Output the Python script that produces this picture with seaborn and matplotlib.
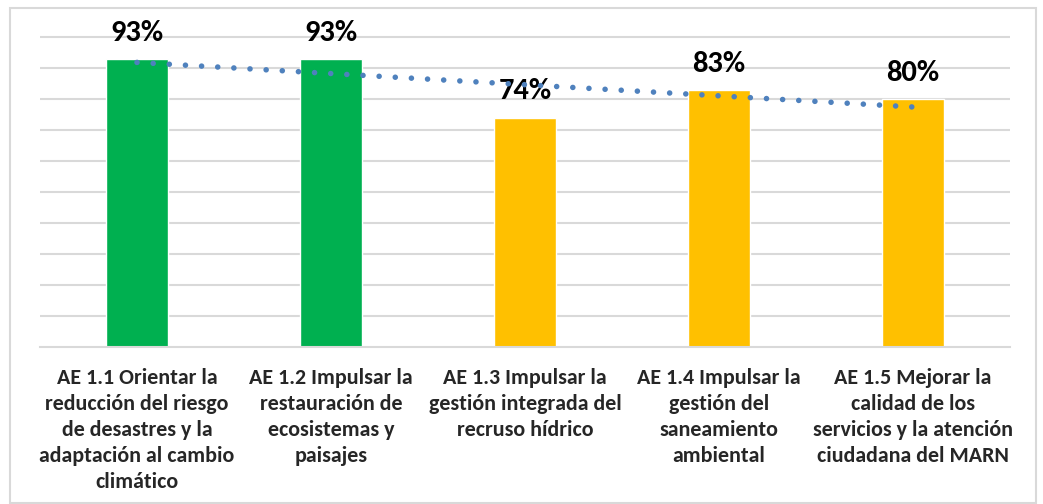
import numpy as np
import pandas as pd
import matplotlib
matplotlib.use("Agg")
import matplotlib.pyplot as plt
from matplotlib import font_manager as fm
import seaborn as sns

# Datos del gráfico
categorias = [
    "AE 1.1 Orientar la\nreducción del riesgo\nde desastres y la\nadaptación al cambio\nclimático",
    "AE 1.2 Impulsar la\nrestauración de\necosistemas y\npaisajes",
    "AE 1.3 Impulsar la\ngestión integrada del\nrecruso hídrico",
    "AE 1.4 Impulsar la\ngestión del\nsaneamiento\nambiental",
    "AE 1.5 Mejorar la\ncalidad de los\nservicios y la atención\nciudadana del MARN",
]
valores = [0.93, 0.93, 0.74, 0.83, 0.80]
etiquetas = ["93%", "93%", "74%", "83%", "80%"]
colores = ["#00B050", "#00B050", "#FFC000", "#FFC000", "#FFC000"]

sns.set_style("white")
plt.rcParams["font.family"] = ["Carlito", "DejaVu Sans"]
fuente_eje = fm.FontProperties(family="Carlito", weight="bold", size=15.8)
fuente_dato = fm.FontProperties(family="Carlito", weight="bold", size=22)

df = pd.DataFrame({"cat": categorias, "valor": valores})

fig = plt.figure(figsize=(10.43, 5.04), dpi=100)
ax = fig.add_axes([40 / 1043, 1 - 346.7 / 504, 970 / 1043, 312.8 / 504])

sns.barplot(data=df, x="cat", y="valor", hue="cat", palette=colores,
            legend=False, width=0.32, saturation=1, ax=ax, zorder=2)

# Etiquetas de datos
for i, (v, t) in enumerate(zip(valores, etiquetas)):
    ax.annotate(t, (i, v), xytext=(0, 13), textcoords="offset points",
                ha="center", va="baseline", fontproperties=fuente_dato,
                color="black", annotation_clip=False, zorder=4)

# Línea de tendencia lineal
sns.regplot(x=np.arange(len(valores)), y=np.array(valores), scatter=False, ci=None,
            truncate=True, ax=ax,
            line_kws={"color": "#4F81BD", "linewidth": 4.0,
                      "linestyle": (0, (0.01, 2.9)), "dash_capstyle": "round",
                      "zorder": 5})

ax.set_ylim(0, 1.01)
ax.set_xlim(-0.5, 4.5)
ax.set_yticks(np.arange(0.1, 1.01, 0.1))
ax.set_xticks(range(len(categorias)))
ax.set_xticklabels(categorias, fontproperties=fuente_eje, linespacing=1.37)
ax.yaxis.grid(True, color="#D9D9D9", linewidth=1.5, zorder=0)
ax.set_axisbelow(True)
ax.tick_params(axis="y", left=False, labelleft=False)
ax.tick_params(axis="x", bottom=False, pad=12)
ax.set_xlabel("")
ax.set_ylabel("")
for s in ["top", "left", "right"]:
    ax.spines[s].set_visible(False)
ax.spines["bottom"].set_color("#D9D9D9")
ax.spines["bottom"].set_linewidth(1.5)

# Borde del gráfico
borde = plt.Rectangle((10 / 1043, 1 / 504), 1026 / 1043, 495 / 504,
                      transform=fig.transFigure, fill=False,
                      edgecolor="#D9D9D9", linewidth=1.5)
fig.patches.append(borde)

fig.savefig("out.png", dpi=100)
